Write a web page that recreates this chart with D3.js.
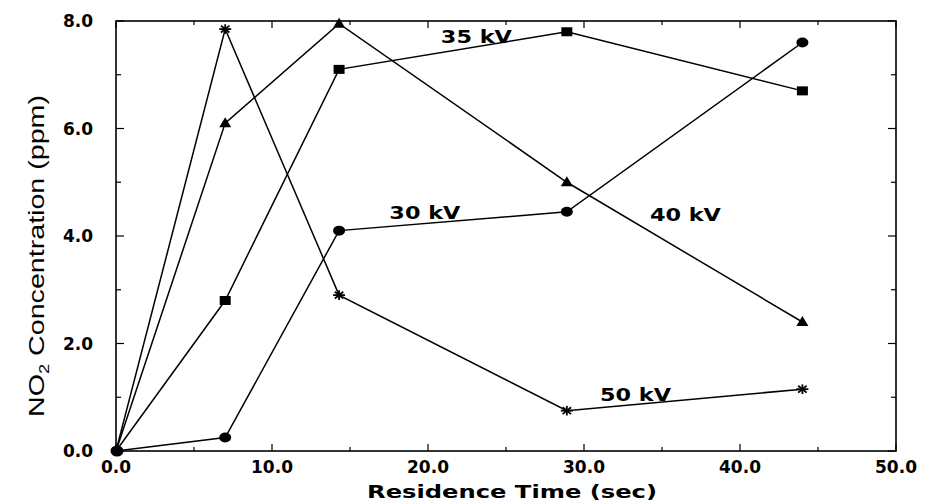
<!DOCTYPE html>
<html><head><meta charset="utf-8">
<script src="https://cdn.jsdelivr.net/npm/d3@7"></script>
<style>body{margin:0;background:#fff}svg{display:block}</style>
</head><body>
<svg id="c" width="930" height="504"></svg>
<script>
const times = [0, 7.0, 14.3, 28.9, 44.0];
const kv30 = [0, 0.25, 4.1, 4.45, 7.6];
const kv35 = [0, 2.8, 7.1, 7.8, 6.7];
const kv40 = [0, 6.1, 7.95, 5.0, 2.4];
const kv50 = [0, 7.85, 2.9, 0.75, 1.15];
const seriesNames = ["30 kV", "35 kV", "40 kV", "50 kV"];
const xTicks = [0, 10, 20, 30, 40, 50];
const yTicks = [0, 2, 4, 6, 8];
const labelAnchors = [[19.8, 4.32], [23.1, 7.59], [36.5, 4.28], [33.3, 0.93]];

const svg = d3.select("#c");
const L = 116, R = 896, T = 21, B = 451;
const x = d3.scaleLinear().domain([0, 50]).range([L, R]);
const y = d3.scaleLinear().domain([0, 8]).range([B, T]);
const font = "'DejaVu Sans', sans-serif";

// frame
svg.append("rect").attr("x", L).attr("y", T).attr("width", R - L).attr("height", B - T)
  .attr("fill", "none").attr("stroke", "#000").attr("stroke-width", 1.6);

// ticks
const xt = d3.range(0, 50.01, 5);
xt.forEach(v => {
  const len = v % 10 === 0 ? 7 : 4;
  svg.append("line").attr("x1", x(v)).attr("x2", x(v)).attr("y1", B).attr("y2", B - len).attr("stroke", "#000").attr("stroke-width", 1.2);
  svg.append("line").attr("x1", x(v)).attr("x2", x(v)).attr("y1", T).attr("y2", T + len).attr("stroke", "#000").attr("stroke-width", 1.2);
});
const yt = d3.range(0, 8.01, 1);
yt.forEach(v => {
  const len = v % 2 === 0 ? 8 : 5;
  svg.append("line").attr("x1", L).attr("x2", L + len).attr("y1", y(v)).attr("y2", y(v)).attr("stroke", "#000").attr("stroke-width", 1.2);
  svg.append("line").attr("x1", R).attr("x2", R - len).attr("y1", y(v)).attr("y2", y(v)).attr("stroke", "#000").attr("stroke-width", 1.2);
});

// tick labels
svg.selectAll(".xl").data(xTicks).enter().append("text")
  .attr("x", d => x(d)).attr("y", B + 22).attr("text-anchor", "middle")
  .attr("font-family", font).attr("font-weight", "bold").attr("font-size", 17)
  .text(d => d.toFixed(1));
svg.selectAll(".yl").data(yTicks).enter().append("text")
  .attr("x", L - 23).attr("y", d => y(d) + 6).attr("text-anchor", "end")
  .attr("font-family", font).attr("font-weight", "bold").attr("font-size", 17)
  .text(d => d.toFixed(1));

// axis titles
svg.append("text").attr("x", 512).attr("y", 498).attr("text-anchor", "middle")
  .attr("font-family", font).attr("font-weight", "bold").attr("font-size", 17)
  .attr("textLength", 290).attr("lengthAdjust", "spacingAndGlyphs")
  .text("Residence Time (sec)");
const yl = svg.append("text").attr("transform", "translate(44,256) rotate(-90)")
  .attr("text-anchor", "middle").attr("font-family", "'Liberation Sans Narrow', 'Liberation Sans', sans-serif")
  .attr("font-size", 22).attr("textLength", 322).attr("lengthAdjust", "spacingAndGlyphs");
yl.append("tspan").text("NO");
yl.append("tspan").attr("dy", 5).attr("font-size", 14).text("2");
yl.append("tspan").attr("dy", -5).text(" Concentration (ppm)");

// series
const all = [kv30, kv35, kv40, kv50];
const line = d3.line().x((d, i) => x(times[i])).y(d => y(d));
all.forEach(s => {
  svg.append("path").datum(s).attr("d", line).attr("fill", "none").attr("stroke", "#000").attr("stroke-width", 1.5);
});

// markers
const g = svg.append("g");
function circ(px, py) { g.append("ellipse").attr("cx", px).attr("cy", py).attr("rx", 6).attr("ry", 5).attr("fill", "#000"); }
function sq(px, py) { g.append("rect").attr("x", px - 5.5).attr("y", py - 4.5).attr("width", 11).attr("height", 9).attr("fill", "#000"); }
function tri(px, py) { g.append("path").attr("d", `M${px - 6},${py + 4}L${px + 6},${py + 4}L${px},${py - 6}Z`).attr("fill", "#000"); }
function star(px, py) {
  const r = 6;
  [0, 45, 90, 135].forEach(a => {
    const rad = a * Math.PI / 180;
    g.append("line").attr("x1", px - r * Math.cos(rad)).attr("y1", py - r * Math.sin(rad) * 0.8)
      .attr("x2", px + r * Math.cos(rad)).attr("y2", py + r * Math.sin(rad) * 0.8)
      .attr("stroke", "#000").attr("stroke-width", 1.8);
  });
}
const makers = [circ, sq, tri, star];
all.forEach((s, k) => {
  s.forEach((v, i) => { if (i > 0) makers[k](x(times[i]), y(v)); });
});
// origin dot
g.append("ellipse").attr("cx", x(0) + 1).attr("cy", y(0)).attr("rx", 6.5).attr("ry", 5.5).attr("fill", "#000");

// series labels
svg.selectAll(".sl").data(seriesNames).enter().append("text")
  .attr("x", (d, i) => x(labelAnchors[i][0])).attr("y", (d, i) => y(labelAnchors[i][1]))
  .attr("text-anchor", "middle").attr("font-family", font).attr("font-weight", "bold").attr("font-size", 18)
  .attr("textLength", 71).attr("lengthAdjust", "spacingAndGlyphs")
  .text(d => d);
</script>
</body></html>
